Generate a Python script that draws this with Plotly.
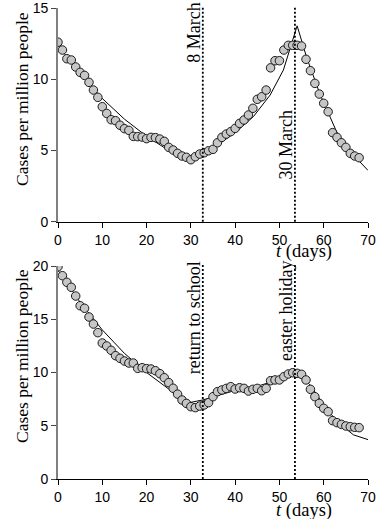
import plotly.graph_objects as go
from plotly.subplots import make_subplots

days = list(range(0, 69))

cases_top = [12.6, 12.05, 11.44, 11.35, 10.86, 10.48, 10.27, 9.78, 9.24, 8.73,
             8.07, 7.6, 7.16, 7.09, 6.77, 6.53, 6.41, 5.99, 5.97, 5.94,
             5.83, 5.92, 5.9, 5.8, 5.64, 5.22, 5.03, 4.8, 4.61, 4.52,
             4.35, 4.56, 4.75, 4.84, 4.98, 5.08, 5.54, 5.92, 6.15, 6.32,
             6.55, 6.9, 7.14, 7.49, 7.96, 8.59, 8.77, 9.24, 10.8, 11.3,
             11.3, 12.05, 12.38, 12.38, 12.38, 12.33, 11.4, 10.6, 9.71, 8.96,
             8.31, 7.72, 6.25, 5.92, 5.54, 5.22, 4.8, 4.61, 4.49]

cases_bottom = [19.93, 19.09, 18.47, 18.0, 17.18, 16.27, 16.03, 15.21, 14.55, 13.74,
                12.77, 12.49, 12.08, 11.58, 11.33, 11.08, 10.89, 10.89, 10.39, 10.45,
                10.36, 10.33, 10.17, 9.89, 9.51, 9.05, 8.52, 7.97, 7.42, 7.1,
                6.79, 6.7, 6.85, 6.95, 7.17, 7.73, 8.2, 8.36, 8.51, 8.67,
                8.45, 8.57, 8.51, 8.26, 8.42, 8.51, 8.29, 8.51, 9.23, 9.3,
                9.3, 9.61, 9.86, 9.98, 9.92, 9.83, 9.3, 8.42, 7.73, 7.1,
                6.64, 6.32, 5.48, 5.29, 5.13, 4.98, 4.91, 4.85, 4.82]

fit_top_t = [0, 5, 10, 15, 20, 25, 30, 32.7, 36.6, 40.3, 44.1, 47.9, 50.9, 54,
             56.1, 59.1, 62.9, 66.7, 70]
fit_top_v = [12.4, 10.35, 8.65, 7.2, 6.0, 5.0, 4.15, 4.75, 5.5, 6.32, 7.37, 8.89, 10.65, 13.75,
             11.58, 9.0, 6.32, 4.68, 3.6]

fit_bot_t = [0, 5, 10, 15, 20, 25, 30, 32.7, 36.6, 40.3, 44.1, 47.9, 50.9, 54,
             57, 60, 63, 66.7, 70]
fit_bot_v = [19.6, 16.6, 14.0, 11.8, 10.0, 8.45, 7.2, 7.42, 7.9, 8.35, 8.6, 9.1, 9.45, 10.05,
             8.8, 6.95, 5.4, 4.15, 3.7]

event_days = [32.7, 53.5]
labels_top = ["8 March", "30 March"]
labels_bottom = ["return to school", "easter holiday"]

x_ticks = [0, 10, 20, 30, 40, 50, 60, 70]
y_ticks_top = [0, 5, 10, 15]
y_ticks_bottom = [0, 5, 10, 15, 20]

SERIF = "Liberation Serif"
SANS = "Liberation Sans"

W, Hfig = 382, 519
ML, MR, MT, MB = 58, 14, 8, 40
PW = W - ML - MR
PH = Hfig - MT - MB


def px_to_paper_y(py):
    return (Hfig - MB - py) / PH


def px_to_paper_x(px):
    return (px - ML) / PW


fig = make_subplots(rows=2, cols=1, vertical_spacing=0.0)

marker = dict(size=8.5, color="#c6c6c6", line=dict(color="#1a1a1a", width=1))

for row, (vals, ft, fv) in enumerate([(cases_top, fit_top_t, fit_top_v),
                                       (cases_bottom, fit_bot_t, fit_bot_v)], start=1):
    fig.add_trace(go.Scatter(x=ft, y=fv, mode="lines",
                             line=dict(color="black", width=1), showlegend=False,
                             hoverinfo="skip"), row=row, col=1)
    fig.add_trace(go.Scatter(x=days, y=vals, mode="markers", marker=marker,
                             showlegend=False), row=row, col=1)

top_dom = [px_to_paper_y(221.7), 1.0]
bot_dom = [0.0, px_to_paper_y(266)]

axis_common_x = dict(range=[0, 70], tickvals=x_ticks, showgrid=False, zeroline=False,
                     showline=True, linecolor="black", linewidth=1.3, automargin=False,
                     ticks="outside", ticklen=5, tickwidth=1, tickcolor="black",
                     ticklabeloverflow="allow",
                     tickfont=dict(family=SANS, size=14, color="black"))
axis_common_y = dict(showgrid=False, zeroline=False, showline=True, automargin=False,
                     linecolor="#808080", linewidth=1.8,
                     ticks="outside", ticklen=5, tickwidth=1, tickcolor="#444444",
                     ticklabeloverflow="allow",
                     tickfont=dict(family=SANS, size=14, color="black"))

fig.update_layout(
    xaxis=dict(axis_common_x, anchor="y", domain=[0, 1]),
    xaxis2=dict(axis_common_x, anchor="y2", domain=[0, 1]),
    yaxis=dict(axis_common_y, range=[0, 15], tickvals=y_ticks_top, domain=top_dom, anchor="x"),
    yaxis2=dict(axis_common_y, range=[0, 20], tickvals=y_ticks_bottom, domain=bot_dom, anchor="x2"),
)

dotline = dict(color="black", width=1.8, dash="2px,2px")
shapes = []
for d in event_days:
    shapes.append(dict(type="line", xref="x", yref="paper", x0=d, x1=d,
                       y0=px_to_paper_y(221.7), y1=px_to_paper_y(6), line=dotline))
    shapes.append(dict(type="line", xref="x2", yref="paper", x0=d, x1=d,
                       y0=0, y1=px_to_paper_y(263), line=dotline))

annotations = []
ev_font = dict(family=SERIF, size=18, color="black")
# top panel labels, in data coordinates within range, nudged with yshift
annotations.append(dict(x=event_days[0], y=15, xref="x", yref="y", text=labels_top[0],
                        textangle=-90, showarrow=False, xanchor="right", yanchor="top",
                        xshift=3, yshift=7, font=ev_font))
annotations.append(dict(x=event_days[1], y=(221.7 - 108) / 14.25, xref="x", yref="y",
                        text=labels_top[1], textangle=-90, showarrow=False,
                        xanchor="right", yanchor="top", xshift=3, font=ev_font))
for d, lbl in zip(event_days, labels_bottom):
    annotations.append(dict(x=d, y=20, xref="x2", yref="y2", text=lbl,
                            textangle=-90, showarrow=False, xanchor="right", yanchor="top",
                            xshift=3, yshift=7, font=ev_font))

for cy in [99, 356]:
    annotations.append(dict(x=px_to_paper_x(22), y=px_to_paper_y(cy), xref="paper", yref="paper",
                            text="Cases per million people", textangle=-90, showarrow=False,
                            xanchor="center", yanchor="middle",
                            font=dict(family=SERIF, size=17.5, color="black")))
for py in [251, 510]:
    annotations.append(dict(x=px_to_paper_x(334), y=px_to_paper_y(py), xref="paper", yref="paper",
                            text="<i>t</i> (days)", showarrow=False,
                            xanchor="right", yanchor="middle",
                            font=dict(family=SERIF, size=18.5, color="black")))

fig.update_layout(
    width=W, height=Hfig,
    margin=dict(l=ML, r=MR, t=MT, b=MB, autoexpand=False),
    paper_bgcolor="white", plot_bgcolor="white",
    shapes=shapes, annotations=annotations,
    showlegend=False,
)

fig.write_html("out.html", config={"displayModeBar": False},
               post_script="document.body.style.margin='0';")
